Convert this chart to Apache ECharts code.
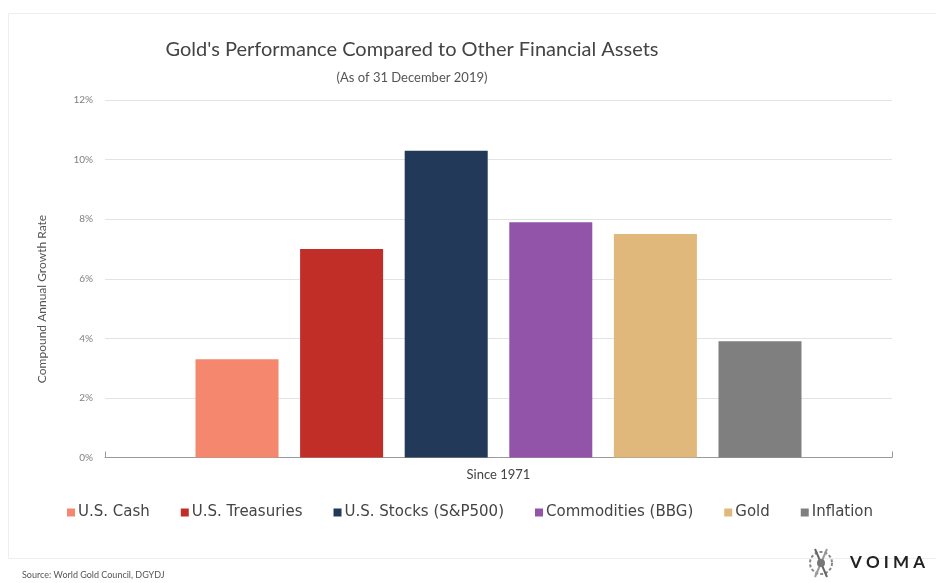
<!DOCTYPE html>
<html>
<head>
<meta charset="utf-8">
<script src="https://cdn.jsdelivr.net/npm/echarts@6/dist/echarts.min.js"></script>
<style>html,body{margin:0;padding:0;background:#fff;}#c{width:936px;height:583px;}</style>
</head>
<body>
<div id="c"></div>
<script>
const categories = ['Since 1971'];
const seriesNames = ['U.S. Cash', 'U.S. Treasuries', 'U.S. Stocks (S&P500)', 'Commodities (BBG)', 'Gold', 'Inflation'];
const seriesValues = [3.3, 7.0, 10.3, 7.9, 7.5, 3.9];
const seriesColors = ['#F5876F', '#C12E27', '#22395A', '#9154A8', '#E0B87B', '#7F7F7F'];
const yTicks = { min: 0, max: 12, interval: 2 };

const FONT = 'Lato';
const chart = echarts.init(document.getElementById('c'), null, { renderer: 'canvas' });
const series = seriesNames.map((n, i) => ({
  name: n,
  type: 'bar',
  data: [seriesValues[i]],
  itemStyle: { color: seriesColors[i] },
  barGap: '26%',
  barCategoryGap: '23%'
}));
chart.setOption({
  backgroundColor: '#fff',
  animation: false,
  textStyle: { fontFamily: FONT },
  title: {
    text: "Gold's Performance Compared to Other Financial Assets",
    subtext: '(As of 31 December 2019)',
    left: 407, top: 35, textAlign: 'center', itemGap: 11,
    textStyle: { fontFamily: FONT, fontSize: 20, fontWeight: 'normal', color: '#444' },
    subtextStyle: { fontFamily: FONT, fontSize: 13, color: '#555' }
  },
  legend: {
    data: seriesNames,
    top: 500, left: 62,
    icon: 'rect', itemWidth: 8, itemHeight: 8, itemGap: 31,
    textStyle: { fontFamily: 'DejaVu Sans', fontSize: 15, color: '#444', padding: [0, 0, 0, -2] }
  },
  grid: { left: 105, right: 44, top: 100, bottom: 125.5, containLabel: false },
  xAxis: {
    type: 'category', data: categories,
    axisLine: { lineStyle: { color: '#9a9a9a' } },
    axisTick: { show: true, length: 6, inside: true, lineStyle: { color: '#9a9a9a' } },
    axisLabel: { fontFamily: FONT, fontSize: 13, color: '#444', margin: 11 }
  },
  yAxis: {
    type: 'value', min: yTicks.min, max: yTicks.max, interval: yTicks.interval,
    axisLine: { show: false }, axisTick: { show: false },
    axisLabel: { formatter: '{value}%', fontFamily: FONT, fontSize: 10, color: '#808080', margin: 12 },
    splitLine: { lineStyle: { color: '#e3e3e3' } }
  },
  graphic: [
    { type: 'rect', silent: true, z: -1, shape: { x: 8.5, y: 13.5, width: 940, height: 545 }, style: { fill: 'none', stroke: '#eeeeee', lineWidth: 1 } },
    { type: 'text', x: 42, y: 299, rotation: Math.PI / 2, style: { text: 'Compound Annual Growth Rate', font: '12px ' + FONT, fill: '#555', align: 'center', verticalAlign: 'middle' } },
    { type: 'text', left: 22, top: 571, style: { text: 'Source: World Gold Council, DGYDJ', font: '9px ' + FONT, fill: '#555' } },
    { type: 'text', left: 850, top: 554, style: { text: 'V O I M A', font: 'bold 17px ' + FONT, fill: '#222' } },
    { type: 'group', x: 821, y: 563, children: [
      { type: 'circle', shape: { cx: 0, cy: 0, r: 11 }, style: { fill: 'none', stroke: '#888', lineWidth: 2, lineDash: [3, 2] } },
      { type: 'line', shape: { x1: -6, y1: -14, x2: 6, y2: 14 }, style: { stroke: '#666', lineWidth: 2 } },
      { type: 'line', shape: { x1: 6, y1: -14, x2: -6, y2: 14 }, style: { stroke: '#999', lineWidth: 2 } },
      { type: 'circle', shape: { cx: 0, cy: 0, r: 4 }, style: { fill: '#777' } }
    ] }
  ],
  series: series
});
</script>
</body>
</html>
